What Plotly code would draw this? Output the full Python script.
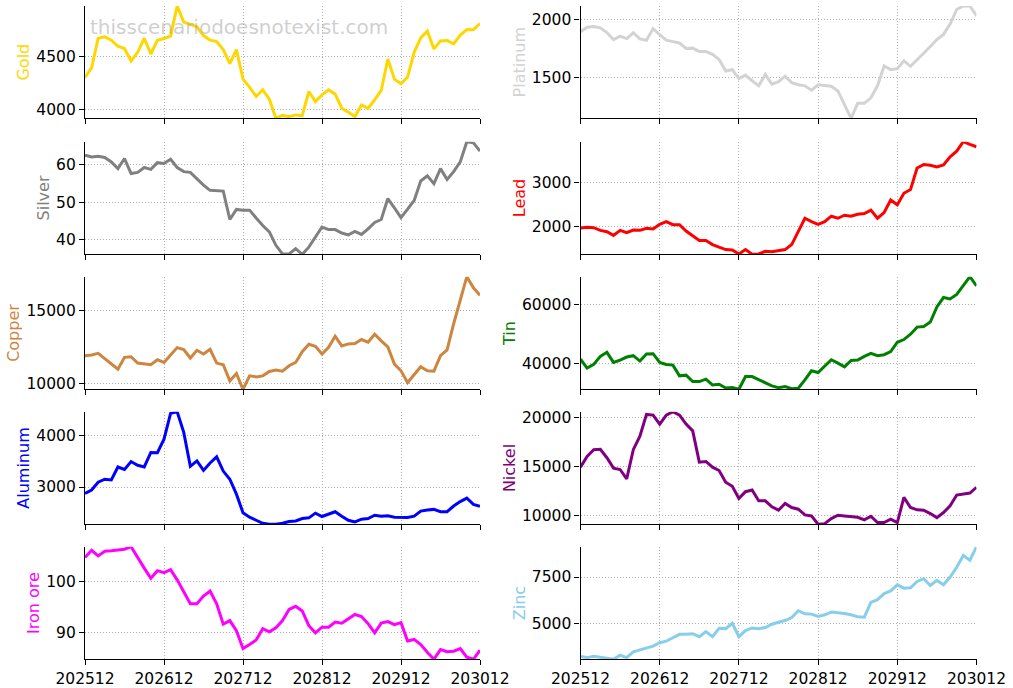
import plotly.graph_objects as go

# ---- category labels (monthly, 202512 .. 203012) ----
months = []
yr, mo = 2025, 12
for _ in range(61):
    months.append(f"{yr}{mo:02d}")
    mo += 1
    if mo > 12:
        mo = 1
        yr += 1
tick_labels = months[::12]

# ---- series values ----
gold = [4307, 4396, 4677, 4690, 4658, 4601, 4579, 4462, 4544, 4677,
        4528, 4658, 4674, 4696, 4981, 4829, 4807, 4785, 4702, 4658,
        4645, 4570, 4437, 4570, 4291, 4215, 4127, 4190, 4101, 3921,
        3949, 3937, 3953, 3946, 4174, 4079, 4142, 4190, 4149, 4016,
        3978, 3937, 4047, 4016, 4095, 4184, 4481, 4291, 4247, 4310,
        4544, 4680, 4744, 4576, 4652, 4655, 4623, 4706, 4759, 4756,
        4816]
platinum = [1897, 1935, 1942, 1930, 1890, 1829, 1859, 1838, 1888, 1835,
            1824, 1924, 1871, 1824, 1812, 1800, 1753, 1756, 1726, 1726,
            1703, 1659, 1559, 1571, 1494, 1524, 1476, 1432, 1529, 1447,
            1468, 1515, 1459, 1441, 1432, 1394, 1441, 1438, 1429, 1388,
            1271, 1153, 1282, 1282, 1329, 1432, 1603, 1571, 1580, 1647,
            1600, 1653, 1712, 1770, 1830, 1874, 1962, 2088, 2118, 2118,
            2035]
silver = [62.6, 62.1, 62.3, 62.0, 60.8, 59.0, 61.7, 57.7, 58.0, 59.3,
          58.8, 60.6, 60.4, 61.5, 59.3, 58.2, 58.0, 56.2, 54.6, 53.2,
          53.0, 53.0, 45.4, 48.1, 47.9, 47.9, 45.8, 43.8, 42.1, 38.5,
          36.2, 36.2, 37.6, 36.1, 38.0, 40.7, 43.4, 42.7, 42.7, 41.8,
          41.3, 42.2, 41.4, 42.9, 44.6, 45.4, 51.0, 48.5, 45.9, 48.2,
          50.5, 55.7, 57.1, 55.0, 59.0, 56.1, 58.2, 60.8, 66.2, 65.9,
          63.7]
lead = [1970, 1985, 1977, 1917, 1886, 1803, 1917, 1864, 1924, 1917,
        1962, 1947, 2053, 2114, 2045, 2045, 1901, 1803, 1689, 1689,
        1598, 1538, 1485, 1477, 1386, 1485, 1379, 1386, 1447, 1439,
        1470, 1485, 1598, 1901, 2189, 2114, 2053, 2114, 2235, 2189,
        2258, 2235, 2280, 2295, 2371, 2189, 2318, 2598, 2492, 2750,
        2833, 3318, 3394, 3379, 3341, 3386, 3568, 3697, 3909, 3849,
        3795]
copper = [11898, 11945, 12060, 11713, 11320, 10972, 11782, 11829, 11389, 11320,
          11273, 11621, 11435, 11945, 12454, 12315, 11736, 12269, 12014, 12338,
          11389, 11273, 10162, 10671, 9583, 10509, 10440, 10509, 10810, 10903,
          10833, 11204, 11435, 12176, 12685, 12547, 12014, 12477, 13241, 12570,
          12709, 12732, 13010, 12824, 13380, 12917, 12500, 11320, 10857, 10046,
          10602, 11134, 10857, 10833, 11898, 12292, 14098, 15718, 17339, 16575,
          16065]
tin = [41379, 38276, 39540, 42299, 43678, 40230, 41034, 42069, 42528, 40690,
       43103, 43218, 40230, 39540, 39310, 35632, 35862, 33681, 33681, 34483,
       32529, 32759, 31494, 31609, 31034, 35402, 35402, 34253, 33104, 32184,
       31609, 31954, 31264, 31379, 34253, 37357, 36782, 38851, 41149, 40000,
       38736, 40920, 41034, 42299, 43333, 42528, 42874, 43908, 47126, 48046,
       49885, 52299, 52529, 54023, 59195, 62414, 61954, 63448, 66437, 69540,
       66437]
aluminum = [2874, 2940, 3093, 3152, 3139, 3391, 3344, 3497, 3424, 3391,
            3675, 3669, 3934, 4437, 4470, 4066, 3404, 3510, 3324, 3470,
            3589, 3311, 3152, 2861, 2497, 2411, 2351, 2292, 2272, 2272,
            2292, 2325, 2338, 2384, 2398, 2490, 2424, 2477, 2517, 2431,
            2351, 2318, 2371, 2384, 2450, 2431, 2437, 2411, 2404, 2404,
            2431, 2530, 2550, 2563, 2517, 2517, 2629, 2715, 2782, 2662,
            2623]
nickel = [14914, 16013, 16700, 16735, 15876, 14810, 14673, 13711, 16700, 18075,
          20308, 20239, 19311, 20239, 20583, 20239, 19311, 18624, 15429, 15498,
          14914, 14570, 13367, 12955, 11718, 12405, 12577, 11477, 11477, 10859,
          10515, 11203, 10790, 10618, 10034, 9931, 9072, 9141, 9656, 10000,
          9931, 9828, 9794, 9519, 9897, 9244, 9244, 9588, 9244, 11821,
          10790, 10550, 10515, 10172, 9759, 10275, 10962, 12062, 12165, 12268,
          12852]
iron_ore = [104.7, 106.1, 105.0, 105.9, 106.0, 106.1, 106.3, 106.8, 104.6, 102.6,
            100.6, 102.1, 101.7, 102.3, 100.3, 97.9, 95.6, 95.6, 97.1, 98.1,
            95.6, 91.6, 92.3, 90.3, 86.8, 87.6, 88.5, 90.7, 90.1, 90.9,
            92.3, 94.5, 95.1, 94.2, 91.3, 89.9, 91.0, 91.0, 92.0, 91.8,
            92.6, 93.5, 93.1, 91.7, 89.9, 91.8, 92.1, 91.5, 91.9, 88.3,
            88.6, 87.6, 86.1, 84.7, 86.6, 86.2, 86.3, 86.8, 85.1, 84.7,
            86.5]
zinc = [3193, 3139, 3212, 3157, 3066, 3047, 3266, 3139, 3449, 3540,
        3650, 3759, 3942, 4033, 4215, 4398, 4398, 4434, 4270, 4544,
        4270, 4726, 4708, 5000, 4270, 4599, 4745, 4708, 4763, 4945,
        5055, 5146, 5310, 5675, 5511, 5493, 5365, 5456, 5602, 5584,
        5529, 5456, 5347, 5329, 6131, 6278, 6606, 6752, 7081, 6898,
        6916, 7263, 7409, 7044, 7318, 7081, 7500, 8030, 8668, 8413,
        9143]

series_names = ["Gold", "Platinum", "Silver", "Lead", "Copper", "Tin",
                "Aluminum", "Nickel", "Iron ore", "Zinc"]
series_values = [gold, platinum, silver, lead, copper, tin,
                 aluminum, nickel, iron_ore, zinc]

# ---- styling ----
colors = ["#FFD700", "#D3D3D3", "#808080", "#FF0000", "#CD853F", "#008000",
          "#0000FF", "#800080", "#FF00FF", "#87CEEB"]
dticks = [500, 500, 10, 1000, 5000, 20000, 1000, 5000, 10, 2500]

W, H = 1013, 688
col_px = [(85, 480), (580.5, 976.5)]
row_px = [(6, 118.3), (141.7, 254.3), (276.7, 389.3), (411.7, 524.3), (546.7, 659.3)]
FONT = "DejaVu Sans"
GRID = "#b0b0b0"

fig = go.Figure()
layout = dict(
    width=W, height=H,
    margin=dict(l=0, r=0, t=0, b=0),
    paper_bgcolor="white", plot_bgcolor="white",
    showlegend=False,
    font=dict(family=FONT, size=15.5, color="black"),
)

for i, (name, vals) in enumerate(zip(series_names, series_values)):
    k = i + 1
    row, col = i // 2, i % 2
    xs = "" if k == 1 else str(k)
    fig.add_trace(go.Scatter(
        x=months, y=vals, mode="lines", name=name,
        line=dict(color=colors[i], width=3),
        xaxis="x" + xs, yaxis="y" + xs,
    ))
    x0, x1 = col_px[col]
    t, b = row_px[row]
    common = dict(
        showline=True, linecolor="black", linewidth=1.25,
        ticks="outside", ticklen=5, tickwidth=1.25, tickcolor="black",
        showgrid=True, gridcolor=GRID, gridwidth=0.8, griddash="1px,2px",
        zeroline=False, automargin=False,
        tickfont=dict(family=FONT, size=15.5, color="black"),
    )
    layout["xaxis" + xs] = dict(
        common,
        domain=[x0 / W, x1 / W],
        anchor="y" + xs,
        type="category",
        range=[0, len(months) - 1],
        tickmode="array", tickvals=tick_labels, ticktext=tick_labels,
        showticklabels=(row == 4),
    )
    layout["yaxis" + xs] = dict(
        common,
        domain=[1 - b / H, 1 - t / H],
        anchor="x" + xs,
        range=[min(vals), max(vals)],
        tick0=0, dtick=dticks[i], tickformat="d",
        title=dict(text=name, standoff=2,
                   font=dict(family=FONT, size=16, color=colors[i])),
    )

layout["annotations"] = [dict(
    text="thisscenariodoesnotexist.com",
    xref="paper", yref="paper", x=88 / W, y=1 - 27 / H,
    xanchor="left", yanchor="middle", showarrow=False,
    font=dict(family=FONT, size=20, color="rgba(160,160,160,0.5)"),
)]

fig.update_layout(**layout)
fig.write_html("out.html")
